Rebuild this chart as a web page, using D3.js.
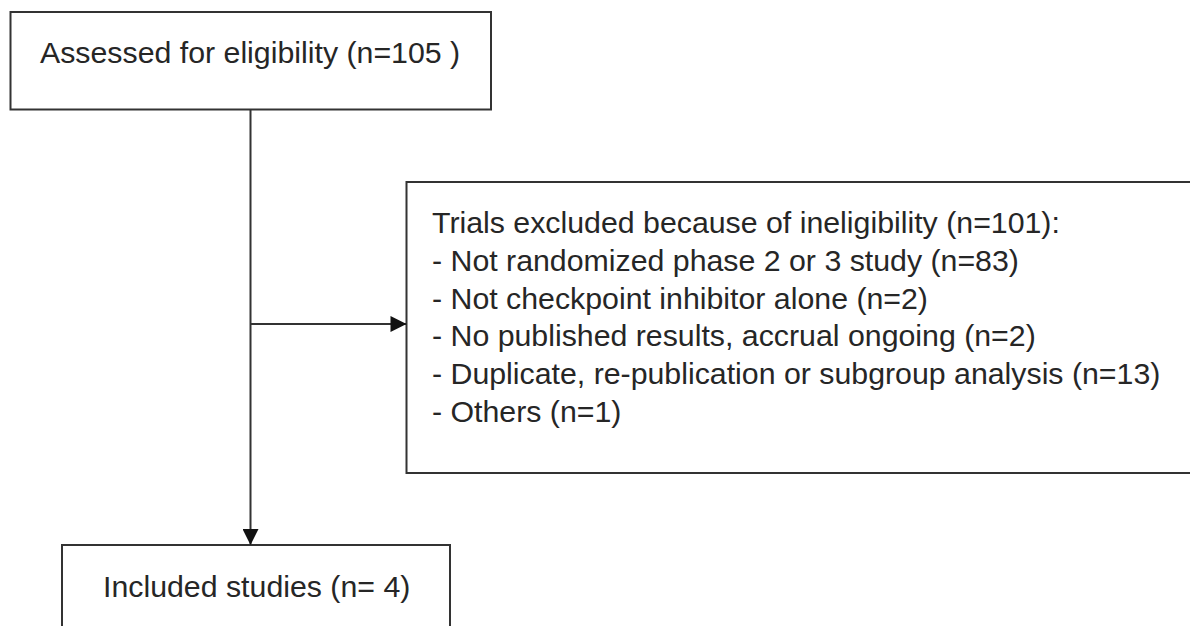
<!DOCTYPE html>
<html>
<head>
<meta charset="utf-8">
<script src="https://cdn.jsdelivr.net/npm/d3@7"></script>
<style>
  body { margin: 0; background: #fff; }
  svg { display: block; font-family: Arial, "Liberation Sans", sans-serif; }
</style>
</head>
<body>
<div class="chart"></div>
<script>
// flow chart content
var assessed = 'Assessed for eligibility (n=105 )';
var excludedTitle = 'Trials excluded because of ineligibility (n=101):';
var excludedReasons = [
  '- Not randomized phase 2 or 3 study (n=83)',
  '- Not checkpoint inhibitor alone (n=2)',
  '- No published results, accrual ongoing (n=2)',
  '- Duplicate, re-publication or subgroup analysis (n=13)',
  '- Others (n=1)'
];
var included = 'Included studies (n= 4)';

var width = 1190, height = 626;
var lineColor = '#333', textColor = '#262626';

var svg = d3.select('.chart')
  .append('svg')
  .attr('width', width)
  .attr('height', height);

svg.append('defs').append('marker')
  .attr('id', 'arrow')
  .attr('viewBox', '0 0 10 10')
  .attr('refX', 10)
  .attr('refY', 5)
  .attr('markerUnits', 'userSpaceOnUse')
  .attr('markerWidth', 17)
  .attr('markerHeight', 16)
  .attr('orient', 'auto')
  .append('path')
  .attr('d', 'M0,0 L10,5 L0,10 Z')
  .style('fill', '#111');

// boxes
var boxes = [
  { x: 10.5, y: 12, w: 480.5, h: 97.5 },
  { x: 406.5, y: 182, w: 800, h: 291 },
  { x: 62, y: 545, w: 388, h: 120 }
];
svg.selectAll('.box')
  .data(boxes)
  .enter()
  .append('rect')
  .attr('class', 'box')
  .attr('x', d => d.x)
  .attr('y', d => d.y)
  .attr('width', d => d.w)
  .attr('height', d => d.h)
  .style('fill', 'none')
  .style('stroke', lineColor)
  .style('stroke-width', 2);

// connectors
var stemX = 250.5;
svg.append('line')
  .attr('x1', stemX).attr('y1', boxes[0].y + boxes[0].h)
  .attr('x2', stemX).attr('y2', boxes[2].y)
  .style('stroke', lineColor)
  .style('stroke-width', 2)
  .attr('marker-end', 'url(#arrow)');

svg.append('line')
  .attr('x1', stemX).attr('y1', 324)
  .attr('x2', boxes[1].x).attr('y2', 324)
  .style('stroke', lineColor)
  .style('stroke-width', 2)
  .attr('marker-end', 'url(#arrow)');

// texts
var fontSize = 30.3;
svg.append('text')
  .attr('x', 40)
  .attr('y', 63)
  .style('font-size', fontSize + 'px')
  .style('fill', textColor)
  .text(assessed);

var lines = [excludedTitle].concat(excludedReasons);
var lineY = d3.scaleLinear().domain([0, 5]).range([233, 422]);
svg.selectAll('.excl')
  .data(lines)
  .enter()
  .append('text')
  .attr('class', 'excl')
  .attr('x', 432)
  .attr('y', (d, i) => lineY(i))
  .style('font-size', fontSize + 'px')
  .style('fill', textColor)
  .text(d => d);

svg.append('text')
  .attr('x', 103)
  .attr('y', 597)
  .style('font-size', fontSize + 'px')
  .style('fill', textColor)
  .text(included);
</script>
</body>
</html>
